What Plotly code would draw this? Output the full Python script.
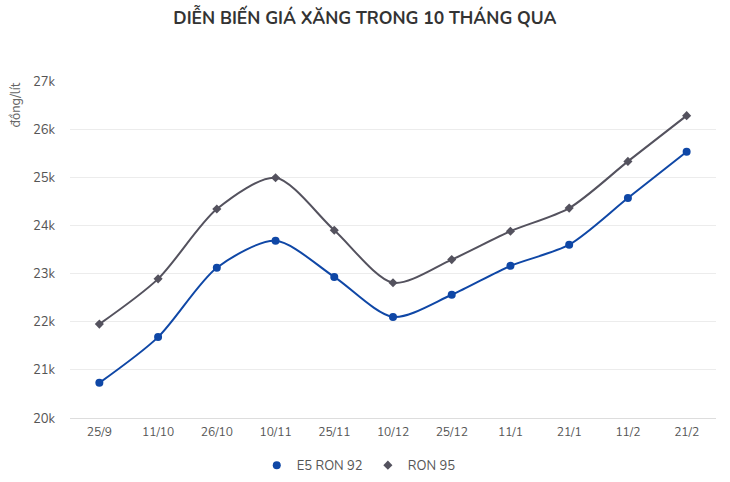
import plotly.graph_objects as go

dates = ["25/9", "11/10", "26/10", "10/11", "25/11", "10/12", "25/12", "11/1", "21/1", "11/2", "21/2"]
e5_ron92 = [20730, 21680, 23120, 23680, 22930, 22100, 22560, 23160, 23600, 24570, 25530]
ron95 = [21950, 22890, 24340, 24990, 23900, 22810, 23290, 23880, 24360, 25330, 26280]
y_ticks = [20000, 21000, 22000, 23000, 24000, 25000, 26000, 27000]
y_tick_labels = ["20k", "21k", "22k", "23k", "24k", "25k", "26k", "27k"]

FONT = "Nunito, Lato, 'Open Sans', sans-serif"
C_E5 = "#0f47a6"
C_95 = "#54525e"

fig = go.Figure()
fig.add_trace(go.Scatter(
    x=dates, y=e5_ron92, name="E5 RON 92", mode="lines+markers", showlegend=False,
    line=dict(color=C_E5, width=2, shape="spline", smoothing=0.8),
    marker=dict(symbol="circle", size=8, color=C_E5),
))
fig.add_trace(go.Scatter(
    x=dates, y=ron95, name="RON 95", mode="lines+markers", showlegend=False,
    line=dict(color=C_95, width=2, shape="spline", smoothing=0.8),
    marker=dict(symbol="diamond", size=7, color=C_95),
))
# legend entries (marker only)
fig.add_trace(go.Scatter(x=[None], y=[None], name="E5 RON 92", mode="markers",
                         marker=dict(symbol="circle", size=8, color=C_E5)))
fig.add_trace(go.Scatter(x=[None], y=[None], name="RON 95", mode="markers",
                         marker=dict(symbol="diamond", size=7, color=C_95)))

fig.update_layout(
    width=730, height=482,
    paper_bgcolor="white", plot_bgcolor="white",
    margin=dict(l=70, r=14, t=81, b=64, autoexpand=False),
    title=dict(text="<b>DIỄN BIẾN GIÁ XĂNG TRONG 10 THÁNG QUA</b>", x=0.5, xanchor="center",
               y=0.962, yanchor="middle",
               font=dict(family=FONT, size=17.5, color="#333333")),
    font=dict(family=FONT, color="#555555"),
    showlegend=True,
    legend=dict(orientation="h", x=0.447, xanchor="center", y=-0.14, yanchor="middle",
                font=dict(size=13, color="#555555"), itemwidth=30),
    xaxis=dict(
        type="category", range=[-0.5, len(dates) - 0.5],
        showgrid=False, showline=True, linecolor="#dddddd", linewidth=1,
        ticks="", tickfont=dict(size=12, color="#555555"), ticklabelstandoff=3,
    ),
    yaxis=dict(
        range=[20000, 27000], tickvals=y_ticks, ticktext=y_tick_labels,
        showgrid=True, gridcolor="#ececec", gridwidth=1, zeroline=False,
        showline=False, ticks="", tickfont=dict(size=13, color="#555555"),
        ticklabelstandoff=14,
    ),
    annotations=[dict(
        text="đồng/lít", textangle=-90, xref="paper", yref="paper",
        x=-0.085, y=1.0, xanchor="center", yanchor="top", showarrow=False,
        font=dict(size=13, color="#666666"),
    )],
)

fig.write_html("out.html", config={"displayModeBar": False},
               post_script="document.body.style.margin='0px';")
